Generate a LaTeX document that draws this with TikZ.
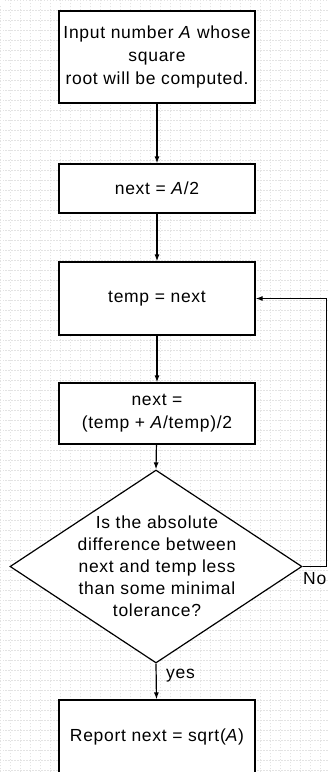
\documentclass[tikz,border=0pt]{standalone}
\usepackage{fontspec}
\setmainfont{Liberation Sans}[LetterSpace=4]
\usetikzlibrary{arrows.meta,shapes.geometric}
\begin{document}
\begin{tikzpicture}[x=1pt,y=-1pt,
  box/.style={draw=black,fill=white,line width=1.2pt,minimum width=196pt,inner sep=0pt,align=center,
    font=\fontsize{17.5}{23}\selectfont},
  dia/.style={draw=black,fill=white,line width=1.2pt,diamond,minimum width=292pt,minimum height=193pt,inner sep=0pt},
  dtxt/.style={align=center,font=\fontsize{17.5}{22}\selectfont},
  lbl/.style={font=\fontsize{17.5}{20}\selectfont,inner sep=0pt},
  conn/.style={draw=black,line width=1.2pt,-{Latex[length=7pt,width=5pt]}}]
\useasboundingbox (0,0) rectangle (328,772);
\fill[white] (0,0) rectangle (328,772);
\draw[gray!22,line width=0.5pt,dash pattern=on 0.6pt off 2.4pt] (0,5) grid[step=10pt] (328,772);
\draw[gray!22,line width=0.5pt,dash pattern=on 0.6pt off 2.4pt] (5,0) grid[step=10pt] (328,772);

\node[box,minimum height=92pt] (b1) at (157,57) {Input number \textit{A} whose\\square\\root will be computed.};
\node[box,minimum height=49pt] (b2) at (157,188.5) {next = \textit{A}/2};
\node[box,minimum height=73pt] (b3) at (157,298.5) {temp = next};
\node[box,minimum height=61pt] (b4) at (157,413.5) {next =\\(temp + \textit{A}/temp)/2};
\node[dia] (d) at (156,566.5) {};
\node[dtxt] (dt) at (157,566.5) {Is the absolute\\difference between\\next and temp less\\than some minimal\\tolerance?};
\node[box,minimum height=74pt] (b5) at (157,737) {Report next = sqrt(\textit{A})};

\coordinate (fb) at (326.5,566.5);
\draw[conn] (b1) -- (b2);
\draw[conn] (b2) -- (b3);
\draw[conn] (b3) -- (b4);
\draw[conn] (b4) -- (d.north);
\draw[conn] (d.south) -- (b5);
\draw[conn] (d.east) -- (fb) |- (b3.east);
\node[lbl,anchor=west] (no) at (303,579) {No};
\node[lbl,anchor=west] (yes) at (166,676) {yes};
\end{tikzpicture}
\end{document}
